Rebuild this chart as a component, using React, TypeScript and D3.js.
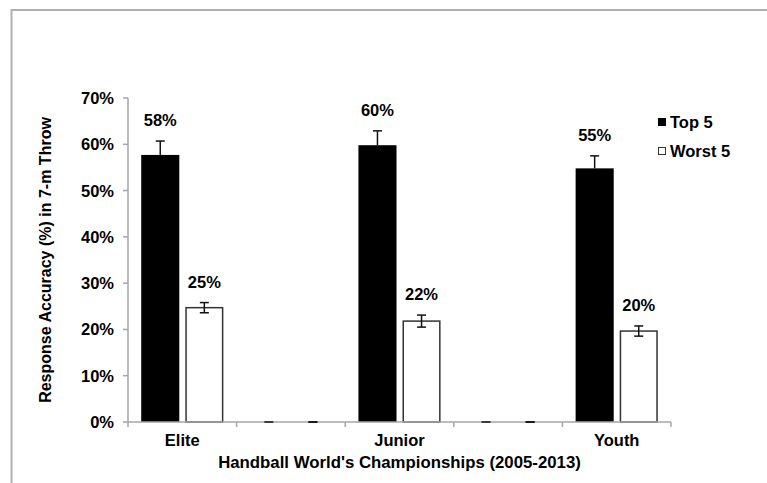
import React from "react";
import * as d3 from "d3";

const categories: string[] = ["Elite", "", "Junior", "", "Youth"];
const seriesNames: string[] = ["Top 5", "Worst 5"];
const top5Values: number[] = [0.577, 0, 0.598, 0, 0.548];
const top5Errors: number[] = [0.03, 0, 0.031, 0, 0.027];
const worst5Values: number[] = [0.247, 0, 0.218, 0, 0.1965];
const worst5Errors: number[] = [0.011, 0, 0.013, 0, 0.011];
const yTicks: number[] = [0, 0.1, 0.2, 0.3, 0.4, 0.5, 0.6, 0.7];

const W = 767;
const H = 483;
const FONT = "'Liberation Sans', Arial, Helvetica, sans-serif";

export default function App() {
  const left = 128;
  const right = 671;
  const top = 98;
  const bottom = 422;

  const x = d3
    .scaleBand<number>()
    .domain(categories.map((_, i) => i))
    .range([left, right])
    .paddingInner(0)
    .paddingOuter(0);
  const inner = d3
    .scaleBand<string>()
    .domain(seriesNames)
    .range([0, x.bandwidth()])
    .paddingInner(0.136)
    .paddingOuter(0.3);
  const y = d3.scaleLinear().domain([0, 0.7]).range([bottom, top]);
  const pct = d3.format(".0%");

  const series = [
    { name: seriesNames[0], values: top5Values, errors: top5Errors, fill: "#000", stroke: "none", both: false },
    { name: seriesNames[1], values: worst5Values, errors: worst5Errors, fill: "#fff", stroke: "#333", both: true },
  ];

  const axisColor = "#a6a6a6";
  const capW = 9;

  const boundaries = categories.map((_, i) => x(i)!).concat([right]);

  return (
    <svg width={W} height={H} style={{ position: "absolute", left: 0, top: 0 }} fontFamily={FONT}>
      <rect x={0} y={0} width={W} height={H} fill="#fff" />
      {/* frame */}
      <path d={`M11.5,${H} V10 H${W}`} fill="none" stroke="#b0b0b0" strokeWidth={2} />

      {/* y axis */}
      <line x1={left} x2={left} y1={top} y2={bottom} stroke={axisColor} strokeWidth={1.5} />
      {yTicks.map((t) => (
        <g key={t}>
          <line x1={left - 5} x2={left} y1={y(t)} y2={y(t)} stroke={axisColor} strokeWidth={1.5} />
          <text x={114} y={y(t)} dy="0.36em" textAnchor="end" fontSize={16.5} fontWeight="bold" fill="#000">
            {pct(t)}
          </text>
        </g>
      ))}

      {/* bars */}
      {series.map((s) =>
        categories.map((_, i) => {
          const bx = x(i)! + inner(s.name)!;
          const bw = inner.bandwidth();
          const v = s.values[i];
          const yv = y(v);
          return v > 0 ? (
            <rect
              key={s.name + i}
              x={bx + (s.stroke === "none" ? 0 : 0.75)}
              y={yv}
              width={bw - (s.stroke === "none" ? 0 : 1.5)}
              height={bottom - yv}
              fill={s.fill}
              stroke={s.stroke}
              strokeWidth={1.5}
            />
          ) : null;
        })
      )}

      {/* x axis */}
      <line x1={left} x2={right} y1={bottom} y2={bottom} stroke={axisColor} strokeWidth={1.5} />
      {boundaries.map((b, i) => (
        <line key={i} x1={b} x2={b} y1={bottom} y2={bottom + 5} stroke={axisColor} strokeWidth={1.5} />
      ))}

      {/* error bars */}
      {series.map((s) =>
        categories.map((_, i) => {
          const cx = x(i)! + inner(s.name)! + inner.bandwidth() / 2;
          const v = s.values[i];
          const e = s.errors[i];
          const y1 = y(v + e);
          const y2 = s.both ? y(v - e) : y(v);
          const col = "#111";
          return (
            <g key={"e" + s.name + i} stroke={col} strokeWidth={1.5}>
              <line x1={cx} x2={cx} y1={y1} y2={y2} />
              <line x1={cx - capW / 2} x2={cx + capW / 2} y1={y1} y2={y1} />
              {s.both ? <line x1={cx - capW / 2} x2={cx + capW / 2} y1={y2} y2={y2} /> : null}
            </g>
          );
        })
      )}

      {/* value labels */}
      {series.map((s) =>
        categories.map((c, i) => {
          if (!c) return null;
          const cx = x(i)! + inner(s.name)! + inner.bandwidth() / 2;
          const v = s.values[i];
          const e = s.errors[i];
          return (
            <text
              key={"l" + s.name + i}
              x={cx}
              y={y(v + e) - 21}
              dy="0.36em"
              textAnchor="middle"
              fontSize={16.5}
              fontWeight="bold"
              fill="#000"
            >
              {pct(v)}
            </text>
          );
        })
      )}

      {/* category labels */}
      {categories.map((c, i) => (
        <text
          key={"c" + i}
          x={x(i)! + x.bandwidth() / 2}
          y={440}
          dy="0.36em"
          textAnchor="middle"
          fontSize={16.5}
          fontWeight="bold"
          fill="#000"
        >
          {c}
        </text>
      ))}

      {/* axis titles */}
      <text
        x={(left + right) / 2}
        y={462}
        dy="0.36em"
        textAnchor="middle"
        fontSize={16.8}
        fontWeight="bold"
        fill="#000"
      >
        Handball World's Championships (2005-2013)
      </text>
      <text
        transform={`translate(45,${(top + bottom) / 2}) rotate(-90)`}
        dy="0.36em"
        textAnchor="middle"
        fontSize={16}
        fontWeight="bold"
        fill="#000"
      >
        Response Accuracy (%) in 7-m Throw
      </text>

      {/* legend */}
      {series.map((s, i) => (
        <g key={"lg" + i} transform={`translate(658,${122 + i * 29})`}>
          <rect
            x={0.5}
            y={-3.5}
            width={7}
            height={7}
            fill={s.fill}
            stroke={s.stroke === "none" ? "#000" : "#333"}
            strokeWidth={1}
          />
          <text x={12} y={0} dy="0.36em" fontSize={16.5} fontWeight="bold" fill="#000">
            {s.name}
          </text>
        </g>
      ))}
    </svg>
  );
}
